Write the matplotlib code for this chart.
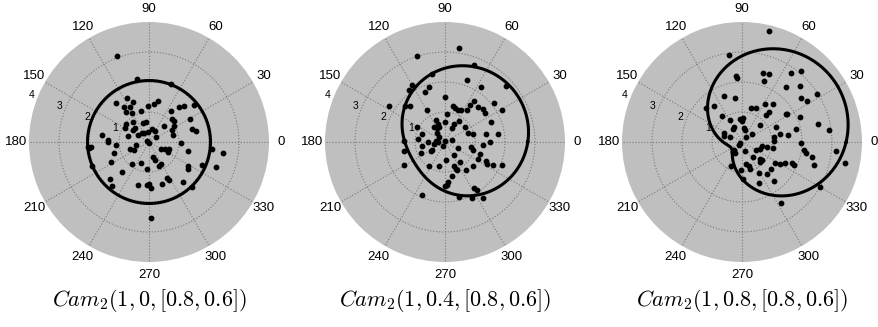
import numpy as np
import matplotlib.pyplot as plt

plt.rcParams['mathtext.fontset'] = 'cm'
plt.rcParams['font.family'] = ['Liberation Sans', 'DejaVu Sans']

# scatter points, cartesian coordinates in the polar plane (radial units)
x1 = [-1.06, -0.40, 0.73, -1.11, -0.72, -0.54, 0.18, -0.04, 0.31, -0.82, -0.63, -0.77,
      -0.58, -0.28, 0.73, 1.01, 1.18, 1.50, 0.78, 0.82, 1.38, -0.78, -0.80, -0.52,
      -0.19, -0.11, 0.09, 0.51, 0.83, 0.76, 1.42, 1.57, -1.58, -1.38, -1.38, -0.69,
      -0.54, -0.47, -0.38, -0.24, -0.17, -0.02, 0.20, 0.24, 0.81, 1.07, -0.08, 0.00,
      -1.09, -0.44, -0.49, -0.63, -2.04, -1.99, -1.93, 0.40, 0.53, 0.62, 0.68, 1.29,
      2.09, 2.46, -1.17, -1.27, -1.89, -0.58, -0.27, -0.06, 0.14, 0.20, 0.34, 0.40,
      1.29, 1.29, 1.76, 2.22, -0.91, -1.30, -1.24, -0.36, -0.08, 0.00, 0.08, 0.44,
      0.60, 0.68, 1.12, 1.44, 0.08]
y1 = [2.86, 2.11, 1.93, 1.29, 1.47, 1.33, 1.27, 1.21, 1.36, 1.16, 1.16, 1.01,
      0.97, 1.02, 1.02, 1.17, 1.19, 1.22, 0.77, 0.70, 0.77, 0.60, 0.46, 0.67,
      0.63, 0.67, 0.43, 0.52, 0.54, 0.39, 0.43, 0.36, 0.23, 0.08, -0.01, 0.21,
      0.39, 0.46, 0.24, 0.30, 0.30, 0.32, 0.38, 0.16, 0.24, -0.03, 0.02, -0.03,
      -0.11, -0.09, -0.26, -0.22, -0.17, -0.20, -0.17, -0.23, -0.23, -0.33, -0.23, -0.30,
      -0.22, -0.37, -0.37, -0.66, -0.79, -0.72, -0.70, -0.90, -0.50, -0.61, -0.81, -0.72,
      -0.81, -0.90, -0.76, -0.83, -1.01, -1.22, -1.48, -1.42, -1.42, -1.39, -1.53, -1.39,
      -1.20, -1.28, -1.33, -1.50, -2.53]

x2 = [0.48, -0.92, 0.98, -0.44, 0.74, -1.11, -1.20, -0.52, -0.68, 1.19, 2.02, -1.88,
      -1.33, -1.17, 0.00, 0.97, 0.83, 1.09, 1.26, 1.34, 1.62, 1.91, -0.61, 0.26,
      0.34, 0.42, 0.52, 0.08, 0.74, -0.30, -0.22, -0.37, -0.28, -0.19, -0.01, 0.30,
      0.46, 0.24, 0.67, 1.53, -0.92, -0.78, -0.91, -0.26, -0.20, -0.30, -0.36, -0.22,
      0.00, -0.06, 0.24, -0.56, -0.78, -0.81, -0.44, -0.48, -1.37, -1.36, -1.37, 0.42,
      0.78, 0.94, 1.37, 1.78, 0.87, 0.92, 1.28, 1.50, 1.17, 1.11, 1.37, 1.41,
      1.61, 1.89, 0.30, 0.03, 0.50, -0.19, -0.53, 0.30, 0.37, 0.41, 0.70, 0.94,
      0.22, 0.11, 0.06, 0.00, 0.97, 1.06, -0.78, 0.48, 0.91, 1.28]
y2 = [3.13, 2.88, 2.58, 2.28, 2.08, 1.89, 1.72, 1.82, 1.66, 1.83, 1.88, 1.21,
      1.19, 1.19, 1.50, 1.36, 1.24, 1.17, 1.10, 0.97, 1.30, 1.07, 1.06, 1.19,
      1.13, 1.08, 1.06, 0.94, 1.08, 0.72, 0.61, 0.50, 0.47, 0.50, 0.66, 0.61,
      0.70, 0.46, 0.50, 0.67, 0.50, 0.28, 0.11, 0.30, 0.17, 0.02, -0.06, 0.00,
      0.02, -0.12, 0.06, -0.01, -0.14, -0.37, -0.28, -0.31, 0.02, -0.31, -0.76, -0.20,
      0.30, 0.28, 0.28, 0.27, -0.17, -0.28, -0.09, 0.00, -0.39, -0.56, -0.64, -0.73,
      -0.78, -0.76, -0.42, -0.61, -0.67, -0.79, -0.81, -0.81, -0.89, -0.92, -0.92, -0.81,
      -1.14, -1.34, -1.42, -1.46, -1.53, -1.59, -1.77, -1.84, -1.87, -1.87]

x3 = [0.89, -0.42, -0.20, -0.16, 0.70, 0.89, 0.74, 1.63, 1.98, 1.46, 1.94, 2.50,
      1.98, 2.17, -0.60, -0.22, -0.92, -1.19, 0.30, 0.48, 0.76, 1.03, 0.91, 1.50,
      -0.67, -0.39, -0.08, 0.00, 0.03, -0.28, -0.30, -0.61, -0.59, -0.39, 0.06, 0.11,
      0.33, 0.14, 0.59, 1.14, 1.26, 1.08, 1.52, 0.80, 1.48, 1.92, 1.81, 2.53,
      2.91, -0.06, -0.11, -0.28, -0.30, -0.24, 0.11, 0.48, 0.59, 0.68, 0.83, 1.08,
      1.03, 0.38, 0.61, 0.67, 0.59, 0.12, 0.22, 0.26, -0.03, 0.56, 1.11, 1.28,
      1.42, 1.67, 1.72, 1.98, 2.06, 2.14, 2.33, 2.39, 3.13, 3.42, 0.97, 0.83,
      1.08, 0.56, -0.37, 0.03, 2.61, 1.30]
y3 = [3.69, 2.89, 2.21, 2.13, 2.30, 2.27, 2.04, 2.29, 2.38, 1.82, 1.86, 1.61,
      1.47, 1.36, 1.54, 1.46, 1.19, 1.13, 1.13, 1.13, 1.28, 1.28, 0.99, 0.93,
      0.87, 0.73, 0.76, 0.70, 0.81, 0.51, 0.42, 0.31, 0.20, 0.18, 0.48, 0.40,
      0.26, 0.18, 0.56, 0.51, 0.28, 0.18, 0.23, 0.89, 0.92, 0.84, 0.44, 0.59,
      0.40, -0.04, -0.09, -0.27, -0.33, -0.36, -0.30, -0.27, -0.22, -0.13, -0.17, 0.03,
      -0.19, -0.49, -0.58, -0.61, -0.67, -0.74, -0.80, -0.91, -0.93, -1.02, -0.69, -0.74,
      -0.69, -0.69, -0.78, -0.02, -0.27, -0.36, -0.49, -0.78, -0.30, -0.69, -0.91, -1.08,
      -1.30, -1.36, -0.80, -1.24, -1.49, -2.04]

xs = [x1, x2, x3]
ys = [y1, y2, y3]

rho = [0.0, 0.4, 0.8]
base_r = 2.05
mu_deg = 30
titles = [r'$Cam_2(1, 0, [0.8, 0.6])$',
          r'$Cam_2(1, 0.4, [0.8, 0.6])$',
          r'$Cam_2(1, 0.8, [0.8, 0.6])$']

angle_labels = list(range(0, 360, 30))
ring_labels = [1, 2, 3, 4]

W, H = 879, 327
centers = [149, 445, 742]
cy = 142
rad = 120

fig = plt.figure(figsize=(W / 100, H / 100), dpi=100)

for i in range(3):
    cx = centers[i]
    ax = fig.add_axes([(cx - rad) / W, (H - cy - rad) / H, 2 * rad / W, 2 * rad / H],
                      projection='polar')
    ax.set_facecolor('#bfbfbf')
    ax.set_ylim(0, 4)
    ax.set_yticks([1, 2, 3])
    ax.set_yticklabels([])
    ax.set_xticks(np.deg2rad(angle_labels))
    ax.set_xticklabels([])
    ax.grid(True, linestyle=':', color='#7a7a7a', linewidth=0.8)
    ax.spines['polar'].set_visible(False)
    ax.tick_params(length=0)

    for a in angle_labels:
        ax.text(np.deg2rad(a), 4.42, str(a), ha='center', va='center',
                fontsize=9.5, clip_on=False)
    for rr in ring_labels:
        ax.text(np.deg2rad(158), rr + 0.22, str(rr), ha='center', va='center',
                fontsize=7.5, clip_on=False)

    th = np.linspace(0, 2 * np.pi, 400)
    r_curve = base_r * (1 + rho[i] * np.cos(th - np.deg2rad(mu_deg)))
    ax.plot(th, r_curve, color='k', linewidth=2.2, zorder=3)

    px = np.array(xs[i])
    py = np.array(ys[i])
    ax.scatter(np.arctan2(py, px), np.hypot(px, py), s=10, color='k', zorder=4)

    fig.text(cx / W, 1 - 300 / H, titles[i], ha='center', va='center', fontsize=16)

fig.savefig('out.png', dpi=100)
